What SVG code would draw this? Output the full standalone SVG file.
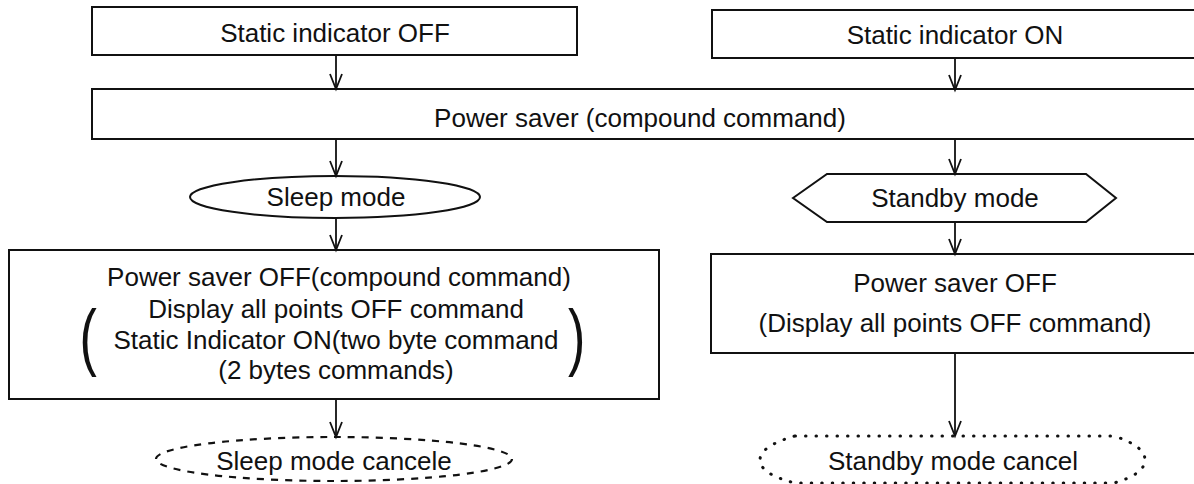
<svg xmlns="http://www.w3.org/2000/svg" width="1194" height="484" viewBox="0 0 1194 484">
<style>
.box{fill:#fff;stroke:#111;stroke-width:2}
.t{font-family:"Liberation Sans",Arial,sans-serif;font-size:26px;fill:#111;text-anchor:middle}
.p{font-family:"Liberation Sans",Arial,sans-serif;font-size:52px;fill:#111}
.c{stroke:#111;stroke-width:1.8;fill:none;marker-end:url(#ah)}
.dash{fill:none;stroke:#111;stroke-width:2.2;stroke-dasharray:7 7}
.dot{fill:none;stroke:#111;stroke-width:3;stroke-dasharray:0.5 10;stroke-linecap:round}
</style>
<defs>
<marker id="ah" markerUnits="userSpaceOnUse" viewBox="0 -8 16 16" refX="15" refY="0" markerWidth="16" markerHeight="16" orient="auto" overflow="visible">
<path d="M0,-6 L15,0 L0,6" fill="none" stroke="#111" stroke-width="1.8"/>
</marker>
</defs>
<rect width="1194" height="484" fill="#fff"/>
<g id="static-off">
<rect class="box" x="92" y="7" width="485" height="48"/>
<text class="t" x="335" y="42">Static indicator OFF</text>
</g>
<g id="static-on">
<rect class="box" x="712" y="10" width="500" height="48"/>
<text class="t" x="955" y="44">Static indicator ON</text>
</g>
<g id="power-saver">
<rect class="box" x="92" y="89" width="1120" height="50"/>
<text class="t" x="640" y="127">Power saver (compound command)</text>
</g>
<g id="sleep-mode">
<ellipse class="box" cx="335" cy="197" rx="145" ry="21"/>
<text class="t" x="336" y="206">Sleep mode</text>
</g>
<g id="standby-mode">
<polygon class="box" points="793,198 827,174 1086,174 1116,198 1086,222 827,222"/>
<text class="t" x="955" y="207">Standby mode</text>
</g>
<g id="power-saver-off-left">
<rect class="box" x="9" y="250" width="650" height="149"/>
<text class="t" x="339" y="286">Power saver OFF(compound command)</text>
<text class="t" x="336" y="318">Display all points OFF command</text>
<text class="t" x="336" y="349">Static Indicator ON(two byte command</text>
<text class="t" x="336" y="379">(2 bytes commands)</text>
<text class="p" transform="translate(79.5,361.5) scale(1,1.42)">(</text>
<text class="p" transform="translate(568,361.5) scale(1,1.42)">)</text>
</g>
<g id="power-saver-off-right">
<rect class="box" x="711" y="254" width="500" height="99"/>
<text class="t" x="955" y="292">Power saver OFF</text>
<text class="t" x="955" y="332">(Display all points OFF command)</text>
</g>
<g id="sleep-cancel">
<ellipse class="dash" cx="334" cy="459" rx="178" ry="22"/>
<text class="t" x="334" y="470">Sleep mode cancele</text>
</g>
<g id="standby-cancel">
<path class="dot" d="M795,436 L1114,436 Q1145,446 1145,460 Q1145,474 1114,483 L795,483 Q760,474 760,460 Q760,446 795,436 Z"/>
<text class="t" x="953" y="470">Standby mode cancel</text>
</g>
<g id="connectors">
<line class="c" x1="336" y1="55" x2="336" y2="89"/>
<line class="c" x1="955" y1="58" x2="955" y2="90"/>
<line class="c" x1="336" y1="139" x2="336" y2="176"/>
<line class="c" x1="955" y1="140" x2="955" y2="174"/>
<line class="c" x1="336" y1="218" x2="336" y2="250"/>
<line class="c" x1="955" y1="222" x2="955" y2="254"/>
<line class="c" x1="336" y1="399" x2="336" y2="437"/>
<line class="c" x1="955" y1="353" x2="955" y2="436"/>
</g>
</svg>
